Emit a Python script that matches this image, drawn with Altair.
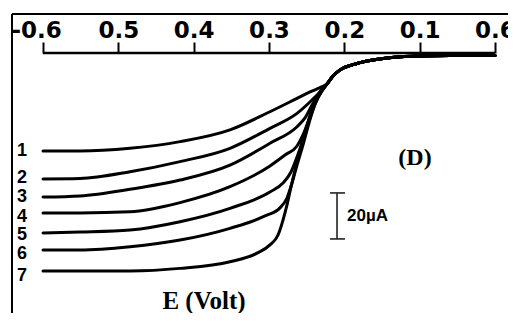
import altair as alt
import pandas as pd

# ---- data ----
tick_values = [0.6, 0.5, 0.4, 0.3, 0.2, 0.1, 0.0]
tick_labels = ["-0.6", "0.5", "0.4", "0.3", "0.2", "0.1", "0.6"]

e1 = [0.6, 0.5509, 0.4845, 0.4181, 0.3518, 0.2987, 0.2628, 0.2456, 0.2323, 0.2230]
i1 = [70.4, 70.4, 71.6, 74.5, 79.6, 87.5, 93.3, 96.1, 98.0, 99.6]
e2 = [0.6, 0.5509, 0.4845, 0.4181, 0.3518, 0.2987, 0.2628, 0.2429, 0.2323, 0.2230]
i2 = [58.3, 58.5, 61.4, 65.8, 71.6, 80.3, 86.8, 92.6, 96.1, 99.6]
e3 = [0.6, 0.5509, 0.4845, 0.4181, 0.3518, 0.2987, 0.2628, 0.2522, 0.2429, 0.2323, 0.2230]
i3 = [50.4, 50.9, 53.8, 57.8, 64.3, 73.8, 81.0, 84.8, 90.4, 96.1, 99.6]
e4 = [0.6, 0.5509, 0.4845, 0.4181, 0.3518, 0.2987, 0.2787, 0.2628, 0.2549, 0.2482, 0.2402, 0.2310, 0.2230]
i4 = [43.5, 43.5, 44.0, 48.0, 54.9, 63.9, 68.7, 72.6, 77.4, 83.0, 90.9, 96.1, 99.6]
e5 = [0.6, 0.5509, 0.4845, 0.4181, 0.3518, 0.2987, 0.2814, 0.2708, 0.2628, 0.2549, 0.2456, 0.2376, 0.2296, 0.2230]
i5 = [34.8, 35.2, 36.1, 39.7, 45.5, 52.6, 56.5, 61.3, 67.8, 75.2, 84.8, 91.7, 96.5, 99.6]
e6 = [0.6, 0.5509, 0.4845, 0.4181, 0.3518, 0.3053, 0.2854, 0.2761, 0.2694, 0.2628, 0.2549, 0.2469, 0.2389, 0.2310, 0.2230]
i6 = [27.4, 27.4, 28.8, 31.7, 36.8, 42.2, 45.7, 50.0, 56.5, 64.3, 73.0, 82.6, 90.9, 96.1, 99.6]
e7 = [0.6, 0.5509, 0.4845, 0.4181, 0.3518, 0.3159, 0.2987, 0.2880, 0.2814, 0.2761, 0.2708, 0.2641, 0.2562, 0.2482, 0.2402, 0.2323, 0.2230]
i7 = [18.3, 18.3, 18.3, 19.4, 22.3, 26.0, 29.6, 33.9, 40.4, 47.0, 54.8, 63.9, 73.9, 83.0, 90.9, 96.1, 99.6]
# common limiting-current part shared by all curves
e_top = [0.2150, 0.2057, 0.1885, 0.1659, 0.1433, 0.1035, 0.0597, 0.0]
i_top = [103.0, 105.7, 108.0, 109.8, 110.9, 111.7, 112.0, 112.0]

curve_names = ["1", "2", "3", "4", "5", "6", "7"]
label_E = 0.6279
label_I = [70.4, 58.7, 50.4, 41.9, 33.9, 25.5, 16.3]

bar_E = 0.2097
bar_I = [32.2, 52.2]          # 20 µA
bar_cap_E = [0.2190, 0.1991]
bar_text = "20µA"
bar_text_E = 0.1964
bar_text_I = 42.2

panel_text = "(D)"
panel_E, panel_I = 0.1062, 67.4
xtitle_text = "E (Volt)"
xtitle_E, xtitle_I = 0.3863, 5.0

frame_E_left = 0.6412
frame_E_right = -0.0173
frame_I_top = 130.0
frame_I_bottom = 0.0
axis_I = 113.04

# ---- tables ----
rows = []
for name, es, is_ in zip(curve_names, [e1, e2, e3, e4, e5, e6, e7],
                          [i1, i2, i3, i4, i5, i6, i7]):
    es_all = es + e_top
    is_all = is_ + i_top
    for k, (e, i) in enumerate(zip(es_all, is_all)):
        rows.append({"curve": name, "idx": k, "E": e, "I": i})
curves = pd.DataFrame(rows)

labels_df = pd.DataFrame({"E": [label_E] * 7, "I": label_I, "t": curve_names})

x_scale = alt.Scale(domain=[frame_E_right, 0.6465], reverse=True, nice=False, zero=False)
y_scale = alt.Scale(domain=[0, axis_I], nice=False, zero=False)

expr = "''"
for v, lab in reversed(list(zip(tick_values, tick_labels))):
    expr = f"abs(datum.value - {v}) < 0.01 ? '{lab}' : ({expr})"

x_axis = alt.Axis(
    orient="top", values=tick_values, labelExpr=expr, domain=False,
    ticks=True, tickSize=11, tickWidth=2, tickColor="black",
    labelFont="DejaVu Sans", labelFontWeight="bold", labelFontSize=23,
    labelColor="black", labelPadding=0, labelFlush=False, labelOverlap=False,
    labelBound=False, grid=False, title=None,
    labelOffset={"condition": {"test": "datum.value > 0.55", "value": -7}, "value": 0},
)


def X(field="E"):
    return alt.X(f"{field}:Q", scale=x_scale, axis=x_axis)


def Y(field="I"):
    return alt.Y(f"{field}:Q", scale=y_scale, axis=None)


lines = alt.Chart(curves).mark_line(
    interpolate="monotone", color="black", strokeWidth=3, strokeCap="round"
).encode(
    x=X(), y=Y(),
    detail="curve:N",
    order=alt.Order("idx:Q"),
)

axis_line = alt.Chart(pd.DataFrame({"E": [0.6], "E2": [0.0], "I": [axis_I]})).mark_rule(
    color="black", strokeWidth=2.5
).encode(x=X(), x2="E2:Q", y=Y())

frame_v = alt.Chart(pd.DataFrame({"E": [frame_E_left], "I": [frame_I_bottom], "I2": [frame_I_top]})).mark_rule(
    color="black", strokeWidth=2
).encode(x=X(), y=Y(), y2="I2:Q")

frame_h = alt.Chart(pd.DataFrame({"E": [frame_E_left], "E2": [frame_E_right], "I": [frame_I_top]})).mark_rule(
    color="black", strokeWidth=2
).encode(x=X(), x2="E2:Q", y=Y())

num_labels = alt.Chart(labels_df).mark_text(
    font="Liberation Sans", fontWeight="bold", fontSize=18, color="black",
    align="center", baseline="middle"
).encode(x=X(), y=Y(), text="t:N")

bar_v = alt.Chart(pd.DataFrame({"E": [bar_E], "I": [bar_I[0]], "I2": [bar_I[1]]})).mark_rule(
    color="#222222", strokeWidth=1.6
).encode(x=X(), y=Y(), y2="I2:Q")

bar_caps = alt.Chart(pd.DataFrame({"E": [bar_cap_E[0]] * 2, "E2": [bar_cap_E[1]] * 2, "I": bar_I})).mark_rule(
    color="#222222", strokeWidth=1.6
).encode(x=X(), x2="E2:Q", y=Y())

bar_label = alt.Chart(pd.DataFrame({"E": [bar_text_E], "I": [bar_text_I], "t": [bar_text]})).mark_text(
    font="Liberation Sans", fontWeight="bold", fontSize=17, color="black",
    align="left", baseline="middle"
).encode(x=X(), y=Y(), text="t:N")

panel = alt.Chart(pd.DataFrame({"E": [panel_E], "I": [panel_I], "t": [panel_text]})).mark_text(
    font="Liberation Serif", fontWeight="bold", fontSize=24, color="black",
    align="center", baseline="middle"
).encode(x=X(), y=Y(), text="t:N")

xtitle = alt.Chart(pd.DataFrame({"E": [xtitle_E], "I": [xtitle_I], "t": [xtitle_text]})).mark_text(
    font="Liberation Serif", fontWeight="bold", fontSize=25, color="black",
    align="center", baseline="middle"
).encode(x=X(), y=Y(), text="t:N")

chart = alt.layer(
    lines, axis_line, frame_v, frame_h, num_labels, bar_v, bar_caps, bar_label, panel, xtitle
).properties(
    width=500, height=260, autosize="none",
    padding={"left": 0, "top": 45, "right": 0, "bottom": 0},
    background="white",
).configure_view(stroke=None)

chart.save("out.html", embed_options={"renderer": "svg", "actions": False})
